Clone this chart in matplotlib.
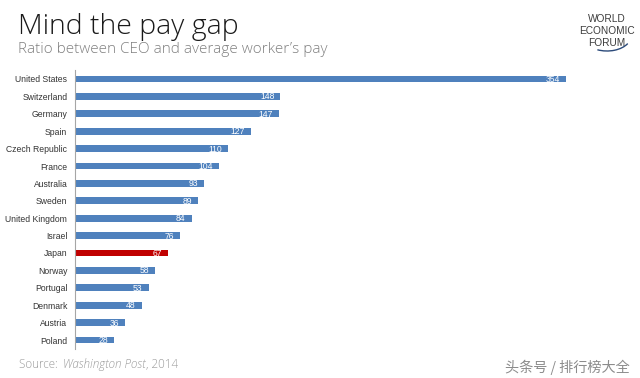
import matplotlib
matplotlib.use("Agg")
import matplotlib.pyplot as plt
from matplotlib.patches import Arc

countries = ["United States", "Switzerland", "Germany", "Spain", "Czech Republic",
             "France", "Australia", "Sweden", "United Kingdom", "Israel", "Japan",
             "Norway", "Portugal", "Denmark", "Austria", "Poland"]
ratios = [354, 148, 147, 127, 110, 104, 93, 89, 84, 76, 67, 58, 53, 48, 36, 28]
highlight = "Japan"

title = "Mind the pay gap"
subtitle = "Ratio between CEO and average worker\u2019s pay"
source_parts = [("Source: ", "normal"), ("Washington Post", "italic"), (", 2014", "normal")]
watermark = "头条号 / 排行榜大全"
logo_lines = ["WORLD", "ECONOMIC", "FORUM"]

BLUE = "#4f81bd"
RED = "#c00000"
W, H = 640, 378

fig = plt.figure(figsize=(6.4, 3.78), dpi=100)
ax = fig.add_axes([75/W, 1 - 348.7/H, 555/W, (348.7 - 70.3)/H])

colors = [RED if c == highlight else BLUE for c in countries]
ypos = list(range(len(countries)))
ax.barh(ypos, ratios, height=0.38, color=colors)
ax.set_xlim(0, 400)
ax.set_ylim(len(countries) - 0.5, -0.5)

for y, v in zip(ypos, ratios):
    ax.text(v - 4.3, y + 0.03, str(v), ha="right", va="center", color="white",
            fontsize=6.2, family="Liberation Sans")

ax.set_yticks(ypos)
ax.set_yticklabels(countries, fontsize=6.2, family="Liberation Sans", color="#333333")
ax.tick_params(axis="y", length=0, pad=5.5)
ax.set_xticks([])
for s in ["top", "right", "bottom"]:
    ax.spines[s].set_visible(False)
ax.spines["left"].set_color("#a6a6a6")
ax.spines["left"].set_linewidth(0.8)

FONT = ["Open Sans", "DejaVu Sans"]
fig.text(18/W, 1 - 34/H, title, fontsize=20.5, family=FONT, fontweight="light",
         color="#1a1a1a", ha="left", va="baseline")
fig.text(18/W, 1 - 53/H, subtitle, fontsize=11, family=FONT, fontweight="light",
         color="#808080", ha="left", va="baseline")

# source line, pieces placed one after another
fig.canvas.draw()
renderer = fig.canvas.get_renderer()
x = 19
for txt, st in source_parts:
    t = fig.text(x/W, 1 - 368/H, txt, fontsize=8.4, family=FONT, fontweight="light",
                 style=st, color="#9a9a9a", ha="left", va="baseline")
    bb = t.get_window_extent(renderer=renderer)
    x = bb.x1 + (2.8 if txt.endswith(" ") else 0.3)

fig.text(567/W, 1 - 367/H, watermark, fontsize=10.2,
         family=["Noto Sans CJK SC", "DejaVu Sans"], color="#8c8c8c",
         ha="center", va="center")

for i, w in enumerate(logo_lines):
    fig.text(607/W, 1 - (19 + i * 11.8)/H, w, fontsize=7.3, family="Liberation Sans",
             color="#3d3d3d", ha="center", va="center")
ov = fig.add_axes([0, 0, 1, 1], facecolor="none")
ov.set_xlim(0, W)
ov.set_ylim(0, H)
ov.axis("off")
ov.add_patch(Arc((607, H - 36), 48, 30, theta1=235, theta2=340, color="#2b4a7a", lw=1.0))

fig.savefig("out.png", dpi=100)
